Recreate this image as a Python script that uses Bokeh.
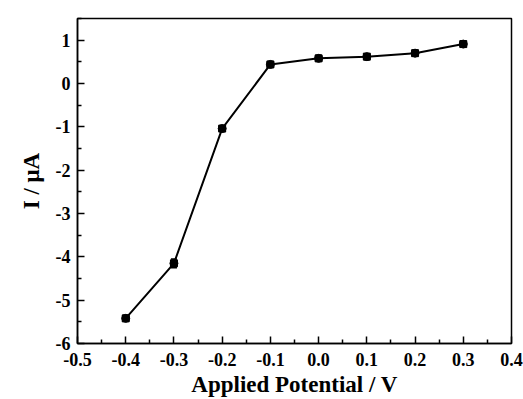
from bokeh.plotting import figure
from bokeh.models import ColumnDataSource, Whisker, FixedTicker, Range1d, CustomJSTickFormatter
from bokeh.embed import file_html
from bokeh.resources import INLINE

potential = [-0.4, -0.3, -0.2, -0.1, 0.0, 0.1, 0.2, 0.3]
current = [-5.42, -4.15, -1.04, 0.44, 0.58, 0.62, 0.70, 0.91]
error = [0.05, 0.10, 0.06, 0.04, 0.04, 0.05, 0.05, 0.05]

x_ticks = [-0.5, -0.4, -0.3, -0.2, -0.1, 0.0, 0.1, 0.2, 0.3, 0.4]
y_ticks = [-6, -5, -4, -3, -2, -1, 0, 1]

src = ColumnDataSource(dict(
    x=potential, y=current,
    lo=[c - e for c, e in zip(current, error)],
    hi=[c + e for c, e in zip(current, error)],
))

p = figure(width=523, height=399, output_backend="svg", toolbar_location=None,
           x_range=Range1d(-0.5, 0.4), y_range=Range1d(-6, 1.5),
           min_border_left=77, min_border_right=12, min_border_top=18, min_border_bottom=56)
p.background_fill_color = "white"
p.border_fill_color = "white"
p.grid.visible = False
p.outline_line_color = "black"
p.outline_line_width = 1.5

FONT = "Liberation Serif"
p.xaxis.ticker = FixedTicker(ticks=x_ticks,
                             minor_ticks=[round(t + 0.05, 2) for t in x_ticks[:-1]])
p.xaxis.formatter = CustomJSTickFormatter(code="return tick.toFixed(1);")
p.yaxis.ticker = FixedTicker(ticks=y_ticks,
                             minor_ticks=[t + 0.5 for t in y_ticks])
p.yaxis.formatter = CustomJSTickFormatter(code="return tick.toFixed(0);")
p.xaxis.axis_label = "Applied Potential / V"
p.yaxis.axis_label = "I / μA"

for ax in p.xaxis + p.yaxis:
    ax.axis_line_color = "black"
    ax.axis_line_width = 1.5
    ax.major_tick_in = 7
    ax.major_tick_out = 0
    ax.minor_tick_in = 4
    ax.minor_tick_out = 0
    ax.major_tick_line_width = 1.5
    ax.minor_tick_line_width = 1.5
    ax.major_label_text_font = FONT
    ax.major_label_text_font_style = "bold"
    ax.major_label_text_font_size = "18px"
    ax.major_label_text_color = "black"
    ax.axis_label_text_font = FONT
    ax.axis_label_text_font_style = "bold"
    ax.axis_label_text_font_size = "23px"
    ax.axis_label_text_color = "black"

p.xaxis.major_label_standoff = 9
p.yaxis.major_label_standoff = 7
p.xaxis.axis_label_standoff = 3
p.yaxis.axis_label_standoff = 9

p.line("x", "y", source=src, line_color="black", line_width=2)
w = Whisker(source=src, base="x", lower="lo", upper="hi", line_color="black",
            line_width=1.5)
w.upper_head.size = 6
w.lower_head.size = 6
w.upper_head.line_width = 1.5
w.lower_head.line_width = 1.5
p.add_layout(w)
p.scatter("x", "y", source=src, marker="square", size=7, fill_color="black", line_color="black")
p.scatter("x", "y", source=src, marker="circle", size=8, fill_color="black", line_color="black")

open("out.html", "w").write(file_html(p, INLINE))
